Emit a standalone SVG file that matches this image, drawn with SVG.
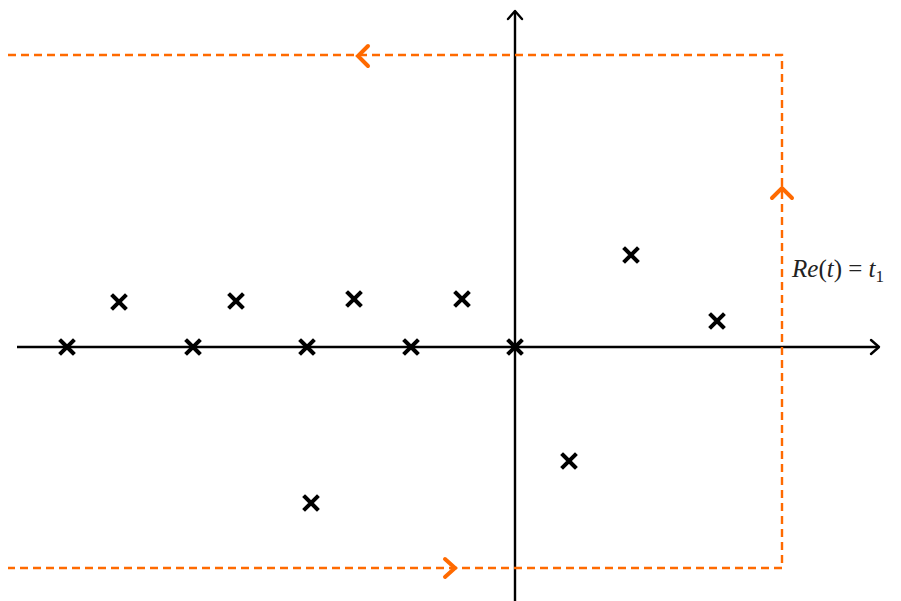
<svg xmlns="http://www.w3.org/2000/svg" width="901" height="601" viewBox="0 0 901 601">
<style>
.ax{stroke:#000;stroke-width:2.4;fill:none}
.axh{stroke:#000;stroke-width:2.4;fill:none;stroke-linecap:round;stroke-linejoin:round}
.ct{stroke:#ff6a00;stroke-width:2.4;fill:none;stroke-dasharray:8 5}
.ch{stroke:#ff6a00;stroke-width:4;fill:none;stroke-linecap:round;stroke-linejoin:miter}
.x{stroke:#000;stroke-width:4;stroke-linecap:square}
.lbl{font-family:"Liberation Serif","DejaVu Serif",serif;font-size:25px;fill:#222}
</style>
<rect width="901" height="601" fill="#fff"/>
<g id="connectors">
<line class="ax" x1="17" y1="347" x2="878" y2="347"/>
<path class="axh" d="M871,340 L879,347 L871,354"/>
<line class="ax" x1="515" y1="601" x2="515" y2="12"/>
<path class="axh" d="M508,19 L515,11 L522,19"/>
<path class="ct" d="M8,55 H782 V568 H8"/>
<path class="ch" d="M368,46 L358,56 L368,66"/>
<path class="ch" d="M772,198 L782,188 L792,198"/>
<path class="ch" d="M445,559 L455,568 L445,577"/>
</g>
<g id="poles">
<path class="x" d="M61,341 l12,12 M73,341 l-12,12"/>
<path class="x" d="M113,296 l12,12 M125,296 l-12,12"/>
<path class="x" d="M187,341 l12,12 M199,341 l-12,12"/>
<path class="x" d="M230,295 l12,12 M242,295 l-12,12"/>
<path class="x" d="M301,341 l12,12 M313,341 l-12,12"/>
<path class="x" d="M348,293 l12,12 M360,293 l-12,12"/>
<path class="x" d="M405,341 l12,12 M417,341 l-12,12"/>
<path class="x" d="M456,293 l12,12 M468,293 l-12,12"/>
<path class="x" d="M509,341 l12,12 M521,341 l-12,12"/>
<path class="x" d="M625,249 l12,12 M637,249 l-12,12"/>
<path class="x" d="M711,315 l12,12 M723,315 l-12,12"/>
<path class="x" d="M563,455 l12,12 M575,455 l-12,12"/>
<path class="x" d="M305,497 l12,12 M317,497 l-12,12"/>
</g>
<g id="label">
<text class="lbl" x="792" y="277"><tspan font-style="italic">Re</tspan>(<tspan font-style="italic">t</tspan>) = <tspan font-style="italic">t</tspan><tspan font-size="17" dy="5">1</tspan></text>
</g>
</svg>
